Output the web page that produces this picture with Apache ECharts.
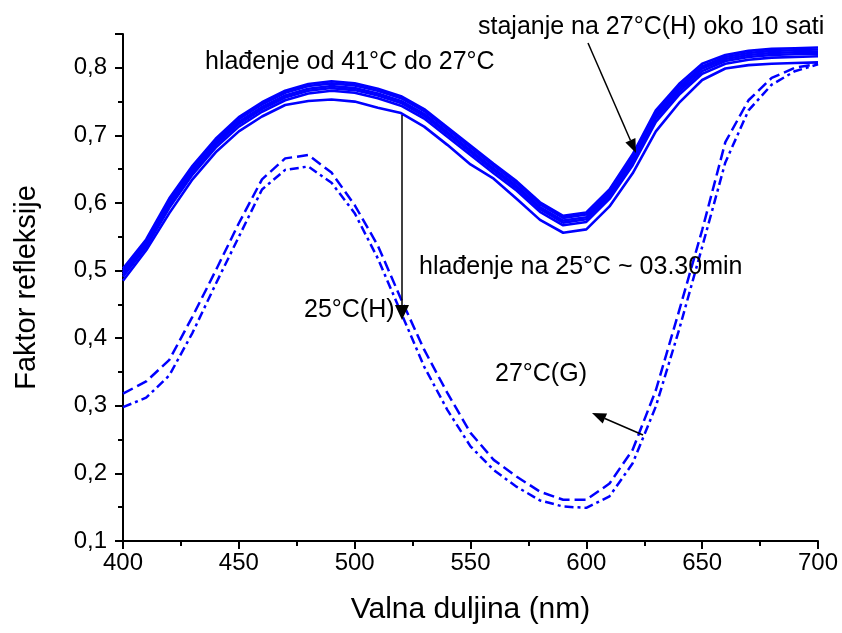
<!DOCTYPE html>
<html>
<head>
<meta charset="utf-8">
<script src="https://cdn.jsdelivr.net/npm/echarts@6/dist/echarts.min.js"></script>
<style>
html,body{margin:0;padding:0;background:#fff;}
#chart{width:842px;height:633px;}
</style>
</head>
<body>
<div id="chart"></div>
<script>
const wavelengths = [400,410,420,430,440,450,460,470,480,490,500,510,520,530,540,550,560,570,580,590,600,610,620,630,640,650,660,670,680,690,700];

// solid curves: hlađenje od 41°C do 27°C / stajanje na 27°C(H)
const solid1 = [0.503,0.546,0.607,0.655,0.695,0.727,0.749,0.766,0.776,0.780,0.777,0.769,0.758,0.739,0.712,0.685,0.658,0.632,0.601,0.581,0.586,0.620,0.672,0.737,0.776,0.806,0.819,0.825,0.828,0.829,0.830];
const solid2 = [0.500,0.543,0.604,0.652,0.692,0.724,0.746,0.763,0.773,0.777,0.774,0.766,0.755,0.736,0.709,0.682,0.655,0.629,0.598,0.578,0.583,0.617,0.668,0.733,0.772,0.802,0.816,0.822,0.825,0.826,0.827];
const solid3 = [0.497,0.540,0.600,0.649,0.689,0.720,0.742,0.759,0.769,0.773,0.770,0.762,0.751,0.732,0.705,0.678,0.651,0.625,0.594,0.574,0.579,0.613,0.664,0.729,0.768,0.799,0.813,0.819,0.822,0.823,0.824];
const solid4 = [0.494,0.538,0.597,0.646,0.686,0.717,0.739,0.756,0.766,0.770,0.767,0.759,0.748,0.729,0.702,0.675,0.648,0.622,0.591,0.571,0.576,0.610,0.660,0.725,0.764,0.795,0.810,0.816,0.819,0.820,0.821];
const solid5 = [0.491,0.535,0.593,0.642,0.682,0.713,0.735,0.752,0.762,0.766,0.763,0.755,0.744,0.725,0.698,0.671,0.644,0.618,0.587,0.567,0.572,0.606,0.656,0.720,0.760,0.791,0.806,0.812,0.815,0.816,0.817];
const solid6 = [0.485,0.530,0.585,0.635,0.675,0.706,0.728,0.745,0.751,0.753,0.750,0.741,0.733,0.713,0.686,0.657,0.636,0.606,0.575,0.556,0.561,0.595,0.644,0.706,0.748,0.782,0.799,0.804,0.806,0.807,0.808];

// dashed: 25°C(H), dash-dot: 27°C(G)
const dashed25H = [0.318,0.336,0.368,0.432,0.500,0.570,0.635,0.666,0.671,0.645,0.597,0.537,0.458,0.383,0.319,0.260,0.220,0.195,0.173,0.161,0.161,0.185,0.235,0.323,0.440,0.560,0.690,0.752,0.785,0.800,0.806];
const dashDot27G = [0.298,0.312,0.345,0.408,0.480,0.550,0.620,0.649,0.654,0.630,0.585,0.518,0.438,0.358,0.294,0.240,0.205,0.180,0.160,0.151,0.149,0.166,0.215,0.299,0.412,0.535,0.660,0.737,0.775,0.795,0.805];

const xTickValues = [400,450,500,550,600,650,700];
const yTickValues = [0.1,0.2,0.3,0.4,0.5,0.6,0.7,0.8];

const FONT = "'Liberation Sans', Arial, sans-serif";
const BLUE = '#0000ff';

function pairs(arr){ return wavelengths.map((w,i)=>[w, arr[i]]); }

const solids = [solid1,solid2,solid3,solid4,solid5,solid6];
const series = solids.map((arr,i)=>({
  type:'line', name:'solid'+(i+1), data:pairs(arr), symbol:'none', silent:true,
  lineStyle:{color:BLUE, width:2.6}, z:3
}));
series.push({type:'line', name:'25°C(H)', data:pairs(dashed25H), symbol:'none', silent:true,
  lineStyle:{color:BLUE, width:2.5, type:[11,5]}});
series.push({type:'line', name:'27°C(G)', data:pairs(dashDot27G), symbol:'none', silent:true,
  lineStyle:{color:BLUE, width:2.5, type:[9,4,3,4]}});

function txt(text, x, y){
  return {type:'text', x:x, y:y, z:100, style:{text:text, fill:'#000', fontSize:25, fontFamily:FONT, textAlign:'left', textVerticalAlign:'middle', verticalAlign:'middle'}};
}

const chart = echarts.init(document.getElementById('chart'), null, {renderer:'canvas'});
chart.setOption({
  animation:false,
  backgroundColor:'#fff',
  grid:{left:123, right:24, top:34, bottom:92, containLabel:false},
  xAxis:{
    type:'value', min:400, max:700, interval:50,
    axisLine:{onZero:false, lineStyle:{color:'#000', width:2}},
    axisTick:{inside:false, length:8, lineStyle:{color:'#000', width:2}},
    minorTick:{show:true, splitNumber:2, length:5, lineStyle:{color:'#000', width:2}},
    splitLine:{show:false},
    axisLabel:{color:'#000', fontSize:24, fontFamily:FONT, margin:10,
      formatter:v=> xTickValues.indexOf(v)>=0 ? String(v) : ''},
    name:'Valna duljina (nm)', nameLocation:'middle', nameGap:54,
    nameTextStyle:{color:'#000', fontSize:30, fontFamily:FONT}
  },
  yAxis:{
    type:'value', min:0.1, max:0.85, interval:0.1,
    axisLine:{onZero:false, lineStyle:{color:'#000', width:2}},
    axisTick:{inside:false, length:8, lineStyle:{color:'#000', width:2}},
    minorTick:{show:true, splitNumber:2, length:5, lineStyle:{color:'#000', width:2}},
    splitLine:{show:false},
    axisLabel:{color:'#000', fontSize:24, fontFamily:FONT, margin:16,
      formatter:v=>{ const r=Math.round(v*10)/10; return Math.abs(r-v)<1e-6 && yTickValues.some(t=>Math.abs(t-r)<1e-6) ? r.toFixed(1).replace('.',',') : ''; }},
    name:'Faktor refleksije', nameLocation:'middle', nameGap:82,
    nameTextStyle:{color:'#000', fontSize:29, fontFamily:FONT}
  },
  series:series,
  graphic:[
    txt('hlađenje od 41°C do 27°C', 205, 62),
    txt('stajanje na 27°C(H) oko 10 sati', 478, 27),
    txt('hlađenje na 25°C ~ 03.30min', 419, 267),
    txt('25°C(H)', 304, 310),
    txt('27°C(G)', 495, 374),
    {type:'line', z:100, shape:{x1:402,y1:115,x2:402,y2:307}, style:{stroke:'#000', lineWidth:1.5}},
    {type:'polygon', z:100, shape:{points:[[395,305],[409,305],[402,320]]}, style:{fill:'#000'}},
    {type:'line', z:100, shape:{x1:588,y1:43,x2:630.4,y2:140.2}, style:{stroke:'#000', lineWidth:1.5}},
    {type:'polygon', z:100, shape:{points:[[635.4,138.0],[625.4,142.4],[636,153]]}, style:{fill:'#000'}},
    {type:'line', z:100, shape:{x1:643,y1:435,x2:604.9,y2:418.5}, style:{stroke:'#000', lineWidth:1.5}},
    {type:'polygon', z:100, shape:{points:[[607.1,413.4],[602.7,423.6],[592,413]]}, style:{fill:'#000'}}
  ]
});
</script>
</body>
</html>
